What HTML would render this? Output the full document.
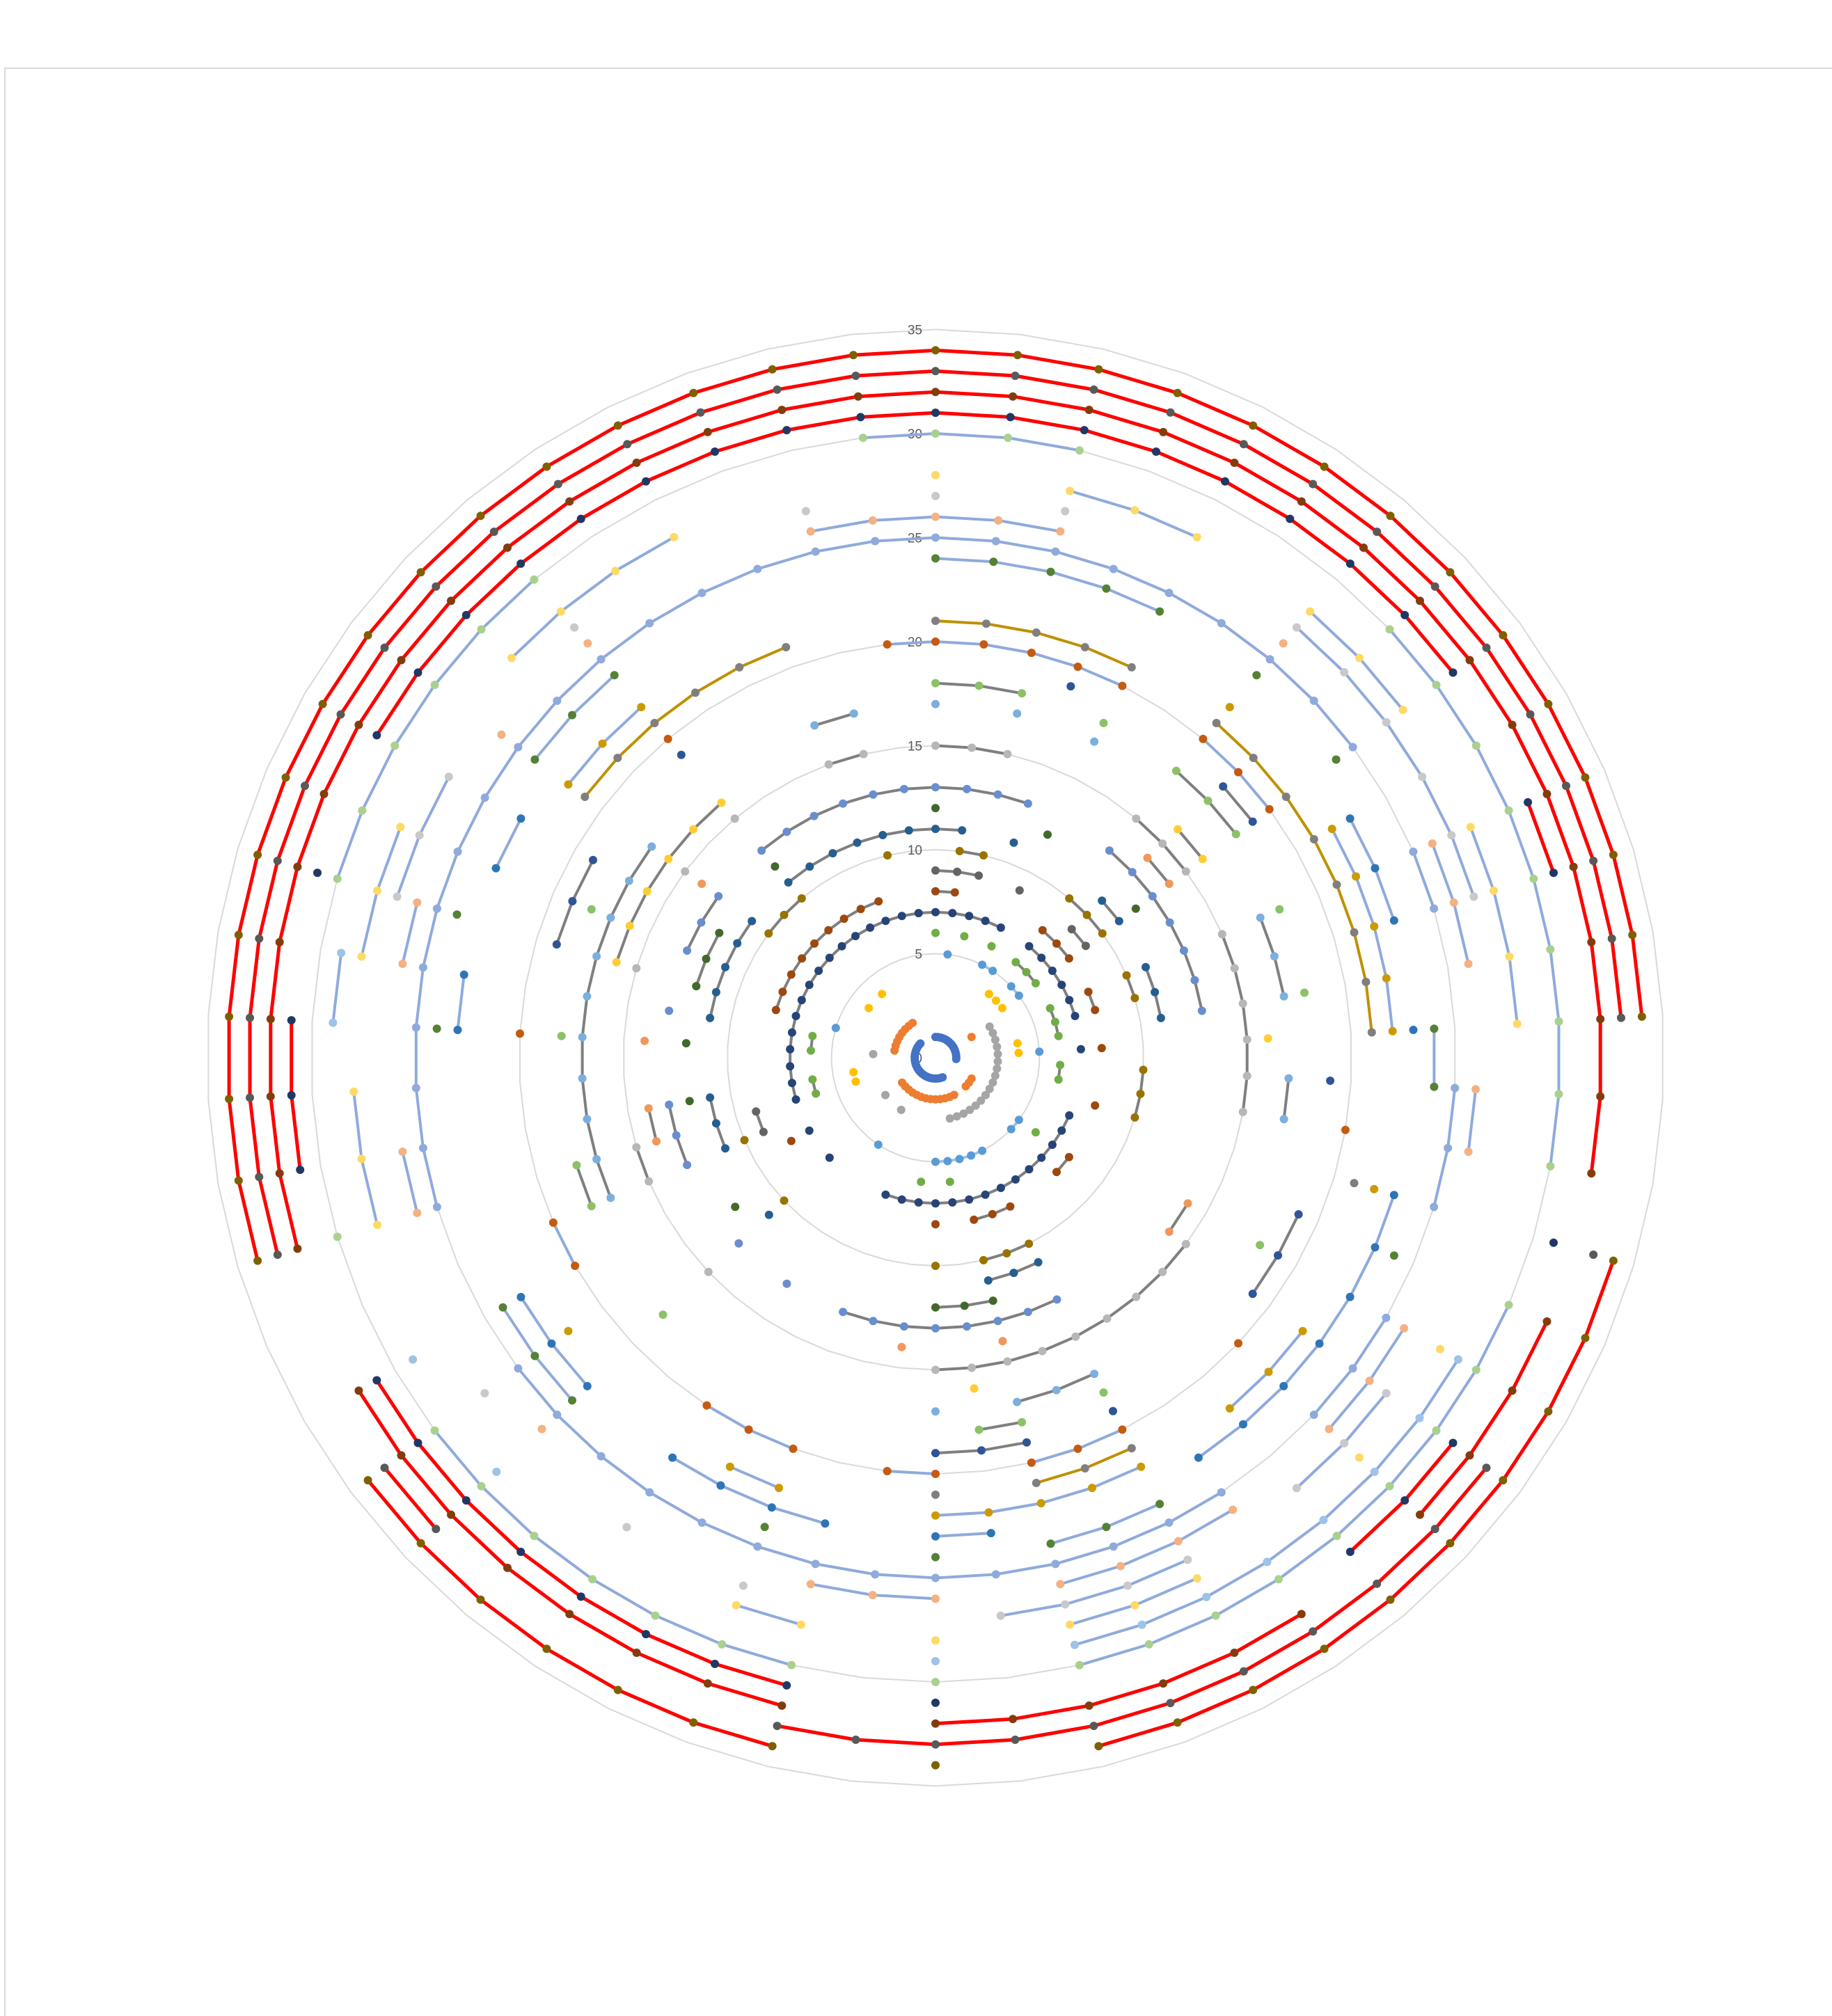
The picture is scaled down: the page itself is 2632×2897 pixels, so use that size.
<!DOCTYPE html>
<html><head><meta charset="utf-8"><title>Radar rings chart</title>
<style>
html,body{margin:0;padding:0;background:#fff;}
svg{display:block;}
text{font-family:"Liberation Sans",sans-serif;}
</style></head>
<body>
<svg id="chart" width="2632" height="2897" viewBox="0 0 2632 2897" xmlns="http://www.w3.org/2000/svg">
<rect x="0" y="0" width="2632" height="2897" fill="#ffffff"/>
<path d="M7,2897 L7,98 L2632,98" fill="none" stroke="#d9d9d9" stroke-width="2"/>
<g id="grid"></g>
<g id="labels"></g>
<g id="series"></g>
</svg>
<script>
// ---- data ----
const categoryCount = 54;
const tickValues = [0,5,10,15,20,25,30,35];
const tickLabels = ["0","5","10","15","20","25","30","35"];
const seriesValues = [1,2,3,4,5,6,7,8,9,10,11,12,13,14,15,16,17,18,19,20,21,22,23,24,25,26,27,28,29,30,31,32,33,34];
const seriesMarkerColors = ["#4472c4","#ed7d31","#a5a5a5","#ffc000","#5b9bd5","#70ad47","#264478","#9e480e","#636363","#997300","#255e91","#43682b","#698ed0","#f1975a","#b7b7b7","#ffcd33","#7cafdd","#8cc168","#2f5597","#c55a11","#7f7f7f","#cc9a00","#2e75b6","#548235","#8faadc","#f4b183","#c9c9c9","#ffd966","#9dc3e6","#a9d18e","#203864","#843c0c","#595959","#7f6000"];
const seriesLineColors = ["none","none","none","none","#9dc3e6","#7f7f7f","#7f7f7f","#7f7f7f","#7f7f7f","#7f7f7f","#7f7f7f","#7f7f7f","#7f7f7f","#7f7f7f","#7f7f7f","#7f7f7f","#7f7f7f","#7f7f7f","#7f7f7f","#8faadc","#bf9000","#8faadc","#8faadc","#8faadc","#8faadc","#8faadc","#8faadc","#8faadc","#8faadc","#8faadc","#ff0000","#ff0000","#ff0000","#ff0000"];
// category ranges [from,to] (inclusive, wrapping when to<from) where each series has a value
const seriesRanges = [
 [[0,14],[24,47]],
 [[9,9],[18,20],[23,35],[42,49]],
 [[9,25],[32,32],[35,35],[41,41]],
 [[6,8],[12,13],[38,39],[46,46],[48,48]],
 [[1,1],[4,5],[7,8],[13,13],[19,20],[23,27],[32,32],[43,43]],
 [[0,0],[2,2],[4,4],[6,8],[10,12],[14,15],[19,19],[26,26],[28,28],[38,39],[41,42]],
 [[38,4],[6,11],[13,13],[17,30],[34,34],[36,36]],
 [[0,1],[6,8],[10,11],[13,13],[16,16],[19,20],[23,25],[27,27],[36,36],[43,51]],
 [[0,2],[4,4],[7,8],[37,38]],
 [[1,2],[6,8],[10,11],[14,16],[23,25],[27,27],[34,34],[37,37],[46,48],[52,52]],
 [[48,1],[3,3],[7,8],[10,12],[23,25],[34,34],[37,39],[42,46]],
 [[0,0],[4,4],[8,8],[25,27],[35,35],[39,39],[41,41],[43,45],[48,48]],
 [[48,3],[6,12],[23,30],[32,32],[34,34],[37,39],[42,42],[44,46]],
 [[7,8],[18,19],[25,25],[28,28],[38,39],[41,41],[46,46]],
 [[0,2],[6,8],[10,15],[19,27],[34,34],[37,38],[43,43],[46,46],[48,48],[51,52]],
 [[7,8],[13,13],[26,26],[43,48]],
 [[0,0],[2,2],[4,4],[10,12],[14,15],[23,25],[27,27],[37,46],[51,52]],
 [[0,2],[4,4],[6,8],[10,10],[12,12],[18,18],[23,23],[25,26],[34,34],[37,38],[41,41],[44,44]],
 [[3,3],[7,8],[14,14],[17,19],[23,23],[25,27],[43,45],[48,48]],
 [[53,4],[6,8],[15,15],[20,20],[23,25],[27,28],[30,32],[36,37],[41,41],[48,48]],
 [[0,4],[6,13],[16,16],[23,25],[27,27],[46,51]],
 [[6,6],[9,13],[16,16],[19,21],[23,27],[30,31],[35,35],[46,48]],
 [[9,11],[13,13],[16,22],[26,27],[29,32],[34,36],[41,42],[44,45]],
 [[0,4],[6,6],[8,8],[13,14],[17,17],[23,25],[27,27],[30,30],[34,36],[41,41],[43,43],[46,48]],
 [[38,8],[10,11],[14,16],[18,20],[22,35]],
 [[52,2],[6,6],[10,12],[14,15],[18,20],[22,25],[27,29],[34,34],[38,39],[42,43],[46,46],[48,48]],
 [[0,0],[2,2],[6,11],[19,21],[23,26],[30,30],[32,32],[35,35],[43,45],[48,48],[52,52]],
 [[0,0],[2,4],[6,8],[10,13],[18,18],[20,20],[23,25],[27,27],[29,30],[38,40],[42,44],[47,50]],
 [[18,25],[27,27],[34,34],[36,36],[41,42]],
 [[53,2],[7,15],[17,25],[27,27],[29,35],[38,38],[43,48]],
 [[45,8],[10,11],[16,16],[19,21],[27,27],[29,36],[39,41],[43,43]],
 [[38,15],[17,20],[22,27],[29,36]],
 [[38,13],[16,16],[19,29],[34,35]],
 [[38,13],[16,25],[27,27],[29,35]]
];

// ---- axes ----
const CX = 1344, CY = 1520, UNIT = 29.9;
const NS = "http://www.w3.org/2000/svg";
function rScale(v){ return v*UNIT; }
function angleOf(k){ return k*2*Math.PI/categoryCount; }
function px(k,v){ return CX + rScale(v)*Math.sin(angleOf(k)); }
function py(k,v){ return CY - rScale(v)*Math.cos(angleOf(k)); }
function mk(tag, attrs){ const e=document.createElementNS(NS,tag); for(const a in attrs) e.setAttribute(a,attrs[a]); return e; }

const grid = document.getElementById('grid');
const labels = document.getElementById('labels');
tickValues.forEach((t,i)=>{
  if(t>0){
    const pts=[];
    for(let k=0;k<categoryCount;k++) pts.push(px(k,t).toFixed(1)+','+py(k,t).toFixed(1));
    const pg = mk('polygon',{points:pts.join(' '),fill:'none',stroke:'#d9d9d9','stroke-width':2});
    
    
    grid.appendChild(pg);
  }
  const tx = mk('text',{x:CX-19,y:py(0,t)+7,'text-anchor':'end','font-size':19,fill:'#595959'});
  tx.textContent = tickLabels[i];
  
  
  labels.appendChild(tx);
});

function buildValues(si){
  const vals = new Array(categoryCount).fill(null);
  seriesRanges[si].forEach(([a,b])=>{
    let k=a;
    while(true){ vals[k]=seriesValues[si]; if(k===b) break; k=(k+1)%categoryCount; }
  });
  return vals;
}

const layer = document.getElementById('series');
seriesValues.forEach((v,si)=>{
  const g = mk('g',{});
  
  
  const vals = buildValues(si);
  const lc = seriesLineColors[si];
  const lw = v>=31 ? 5 : 4;
  if(lc!=='none'){
    let d='';
    for(let k=0;k<categoryCount;k++){
      const n=(k+1)%categoryCount;
      if(vals[k]!==null && vals[n]!==null){
        d+='M'+px(k,vals[k]).toFixed(1)+','+py(k,vals[k]).toFixed(1)+'L'+px(n,vals[n]).toFixed(1)+','+py(n,vals[n]).toFixed(1);
      }
    }
    if(d){
      const p = mk('path',{d:d,fill:'none',stroke:lc,'stroke-width':lw,'stroke-linecap':'round'});
      
      
      g.appendChild(p);
    }
  }
  for(let k=0;k<categoryCount;k++){
    if(vals[k]===null) continue;
    const c = mk('circle',{cx:px(k,vals[k]).toFixed(1),cy:py(k,vals[k]).toFixed(1),r:6,fill:seriesMarkerColors[si]});
    
    
    g.appendChild(c);
  }
  layer.appendChild(g);
});
</script>
</body></html>
